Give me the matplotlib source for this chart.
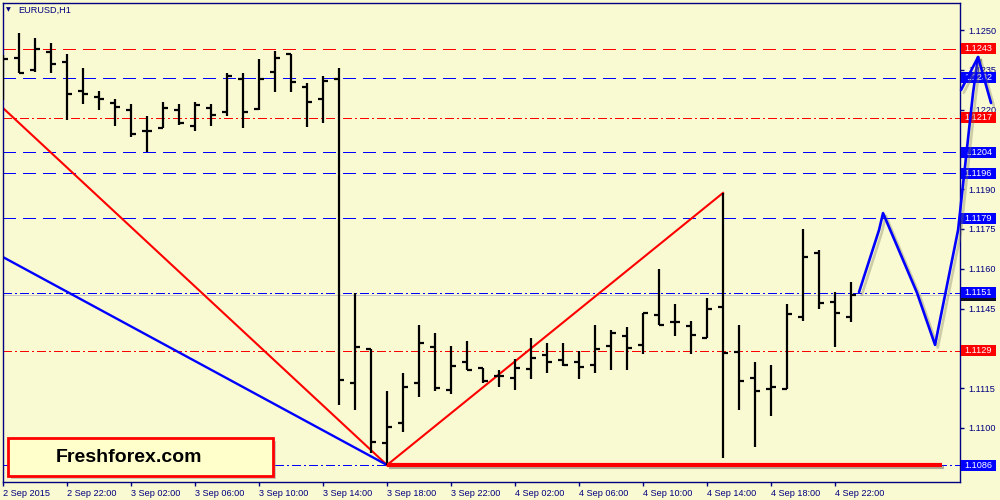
import matplotlib
matplotlib.use('Agg')
import matplotlib.pyplot as plt
from matplotlib.patches import Rectangle
import matplotlib.patheffects as pe
import matplotlib.transforms as mtransforms

# ---------------- data ----------------
opens = [1.12330, 1.12394, 1.12349, 1.12417, 1.12379, 1.12270, 1.12247, 1.12225, 1.12198, 1.12119,
         1.12131, 1.12198, 1.12138, 1.12206, 1.12191, 1.12315, 1.12202, 1.12342, 1.12410, 1.12285,
         1.12240, 1.12315, 1.11169, 1.11298, 1.10943, 1.11019, 1.11169, 1.11305, 1.11143, 1.11249,
         1.11226, 1.11196, 1.11188, 1.11222, 1.11275, 1.11256, 1.11249, 1.11237, 1.11309, 1.11347,
         1.11313, 1.11426, 1.11399, 1.11384, 1.11339, 1.11456, 1.11286, 1.11188, 1.11147, 1.11147,
         1.11418, 1.11659, 1.11475, 1.11418]
highs = [1.12406, 1.12489, 1.12470, 1.12451, 1.12410, 1.12357, 1.12270, 1.12240, 1.12221, 1.12176,
         1.12229, 1.12221, 1.12229, 1.12221, 1.12338, 1.12338, 1.12391, 1.12421, 1.12410, 1.12300,
         1.12327, 1.12357, 1.11509, 1.11298, 1.11139, 1.11207, 1.11388, 1.11358, 1.11309, 1.11328,
         1.11226, 1.11218, 1.11260, 1.11339, 1.11320, 1.11320, 1.11290, 1.11388, 1.11369, 1.11381,
         1.11433, 1.11599, 1.11467, 1.11403, 1.11490, 1.11886, 1.11388, 1.11249, 1.11237, 1.11467,
         1.11750, 1.11671, 1.11512, 1.11550]
lows = [1.12236, 1.12338, 1.12342, 1.12338, 1.12161, 1.12221, 1.12198, 1.12138, 1.12097, 1.12040,
        1.12131, 1.12142, 1.12119, 1.12138, 1.12176, 1.12131, 1.12198, 1.12266, 1.12266, 1.12134,
        1.12150, 1.11086, 1.11068, 1.10906, 1.10860, 1.10985, 1.11117, 1.11139, 1.11128, 1.11218,
        1.11169, 1.11154, 1.11143, 1.11184, 1.11207, 1.11234, 1.11184, 1.11207, 1.11218, 1.11218,
        1.11279, 1.11388, 1.11347, 1.11279, 1.11339, 1.10887, 1.11068, 1.10928, 1.11045, 1.11147,
        1.11403, 1.11448, 1.11305, 1.11399]
closes = [1.12391, 1.12338, 1.12428, 1.12372, 1.12259, 1.12259, 1.12240, 1.12210, 1.12108, 1.12119,
          1.12206, 1.12150, 1.12217, 1.12180, 1.12327, 1.12191, 1.12315, 1.12394, 1.12304, 1.12229,
          1.12308, 1.11181, 1.11305, 1.10947, 1.11004, 1.11154, 1.11320, 1.11151, 1.11234, 1.11218,
          1.11177, 1.11196, 1.11226, 1.11264, 1.11249, 1.11237, 1.11230, 1.11298, 1.11358, 1.11301,
          1.11433, 1.11388, 1.11399, 1.11350, 1.11448, 1.11283, 1.11177, 1.11139, 1.11154, 1.11430,
          1.11644, 1.11471, 1.11433, 1.11500]

time_ticks = [0, 4, 8, 12, 16, 20, 24, 28, 32, 36, 40, 44, 48, 52]
time_labels = ['2 Sep 2015', '2 Sep 22:00', '3 Sep 02:00', '3 Sep 06:00', '3 Sep 10:00',
               '3 Sep 14:00', '3 Sep 18:00', '3 Sep 22:00', '4 Sep 02:00', '4 Sep 06:00',
               '4 Sep 10:00', '4 Sep 14:00', '4 Sep 18:00', '4 Sep 22:00']
price_ticks = [1.1085, 1.1100, 1.1115, 1.1130, 1.1145, 1.1160, 1.1175, 1.1190,
               1.1205, 1.1220, 1.1235, 1.1250]
hidden_price_ticks = [1.1085, 1.1130, 1.1205]   # covered by the level labels

levels = [1.1243, 1.1232, 1.1217, 1.1204, 1.1196, 1.1179, 1.1151, 1.1129, 1.1086]
level_colors = ['red', 'blue', 'red', 'blue', 'blue', 'blue', 'blue', 'red', 'blue']
level_styles = ['dash', 'dash', 'dashdot', 'dash', 'dash', 'dash', 'dashdot', 'dashdot', 'dashdot']

red_trend1_x, red_trend1_y = [0, 24], [1.12206, 1.10860]
blue_trend_x, blue_trend_y = [0, 24], [1.11644, 1.10860]
red_trend2_x, red_trend2_y = [24, 45], [1.10860, 1.11886]
support_x, support_y = [24, 58.7], [1.10860, 1.10860]

forecast_x = [53.5, 54.75, 55.0, 57.125, 58.25, 59.69, 60.625, 60.94]
forecast_y = [1.11512, 1.11746, 1.11810, 1.11509, 1.11313, 1.11746, 1.12263, 1.12398]
arrow_left_x, arrow_left_y = [59.875, 60.94], [1.12274, 1.12398]
arrow_right_x, arrow_right_y = [60.94, 61.75], [1.12398, 1.12225]

# ---------------- style ----------------
BG = '#FAFAD2'
NAVY = '#000080'
RED = '#FF0000'
BLUE = '#0000FF'
plt.rcParams['font.family'] = ['Liberation Sans', 'DejaVu Sans']

fig = plt.figure(figsize=(10, 5), dpi=100, facecolor=BG)
ax = fig.add_axes([0.003, 0.036, 0.957, 0.958])
ax.set_facecolor(BG)
ax.set_xlim(0, 59.81)
ax.set_ylim(1.10796, 1.12602)

# level lines
for lv, c, st in zip(levels, level_colors, level_styles):
    d = (12, 8) if st == 'dash' else (9, 3, 2, 3)
    col = RED if c == 'red' else BLUE
    ax.axhline(lv, color=col, lw=0.72, dashes=d, zorder=1, antialiased=False)
# bid line
ax.axhline(closes[-1], color='#C8C8C8', lw=0.72, zorder=1, antialiased=False)

# OHLC bars
n = len(opens)
idx = list(range(n))
tk = 0.33
ax.vlines(idx, lows, highs, color='black', lw=1.6, zorder=3)
ax.hlines(opens, [i - tk for i in idx], idx, color='black', lw=1.6, zorder=3)
ax.hlines(closes, idx, [i + tk for i in idx], color='black', lw=1.6, zorder=3)

# trend lines
ax.plot(red_trend1_x, red_trend1_y, color=RED, lw=1.5, zorder=2)
ax.plot(blue_trend_x, blue_trend_y, color=BLUE, lw=1.7, zorder=2)
ax.plot(red_trend2_x, red_trend2_y, color=RED, lw=1.5, zorder=2)
shadow = [pe.SimpleLineShadow(offset=(1.5, -1.5), shadow_color='#555555', alpha=0.45), pe.Normal()]
ax.plot(support_x, support_y, color=RED, lw=3, solid_capstyle='butt', zorder=4,
        path_effects=shadow)

# axes styling
for s in ax.spines.values():
    s.set_color(NAVY)
    s.set_linewidth(1)
ax.yaxis.tick_right()
ax.set_yticks(price_ticks)
ax.set_yticklabels(['' if p in hidden_price_ticks else '%.4f' % p for p in price_ticks])
ax.set_xticks(time_ticks)
ax.set_xticklabels(time_labels)
for lbl in ax.get_xticklabels():
    lbl.set_ha('left')
ax.tick_params(axis='both', colors=NAVY, labelcolor=NAVY, labelsize=6.6, length=3, width=1)
ax.tick_params(axis='y', pad=3)
ax.tick_params(axis='x', pad=2)

# price labels on the right
trans = mtransforms.blended_transform_factory(ax.transAxes, ax.transData)
h = 11 / 26530.0
x0 = (961 - 3) / 957.0
w = 35 / 957.0
ax.add_patch(Rectangle((x0, closes[-1] - h / 2 - 0.00002), w, h, transform=trans,
                       facecolor='#101020', edgecolor='none', clip_on=False, zorder=5))
for lv, c in zip(levels, level_colors):
    fc = RED if c == 'red' else BLUE
    ax.add_patch(Rectangle((x0, lv - h / 2), w, h, transform=trans, facecolor=fc,
                           edgecolor='none', clip_on=False, zorder=6))
    ax.text(x0 + w / 2, lv, '%.4f' % lv, transform=trans, color='white', fontsize=6.6,
            ha='center', va='center', clip_on=False, zorder=7)

# forecast path
fshadow = [pe.SimpleLineShadow(offset=(2, -2), shadow_color='#777755', alpha=0.35), pe.Normal()]
for xs, ys in [(forecast_x, forecast_y), (arrow_left_x, arrow_left_y), (arrow_right_x, arrow_right_y)]:
    ax.plot(xs, ys, color=BLUE, lw=1.9, clip_on=False, zorder=10, path_effects=fshadow,
            solid_joinstyle='round', solid_capstyle='round')

# title
fig.text(0.006, 1 - 9.5 / 500, '\u25BC', fontsize=4.5, color=NAVY, va='center', ha='left',
         family=['DejaVu Sans'])
fig.text(0.018, 1 - 10 / 500, 'EURUSD,H1', fontsize=6.6, color=NAVY, va='center', ha='left')

# logo box
fig.add_artist(Rectangle((11 / 1000, 1 - 479 / 500), 265 / 1000, 38 / 500,
                         transform=fig.transFigure, facecolor='#999999', alpha=0.5,
                         edgecolor='none', zorder=20))
fig.add_artist(Rectangle((8 / 1000, 1 - 476 / 500), 265 / 1000, 38 / 500,
                         transform=fig.transFigure, facecolor='#FFFFCC', edgecolor=RED,
                         linewidth=2, zorder=21))
fig.text(129 / 1000, 1 - 458 / 500, 'Freshforex.com', fontsize=14, fontweight='bold',
         color='black', ha='center', va='center', zorder=22)

fig.savefig('out.png', dpi=100, facecolor=BG)
